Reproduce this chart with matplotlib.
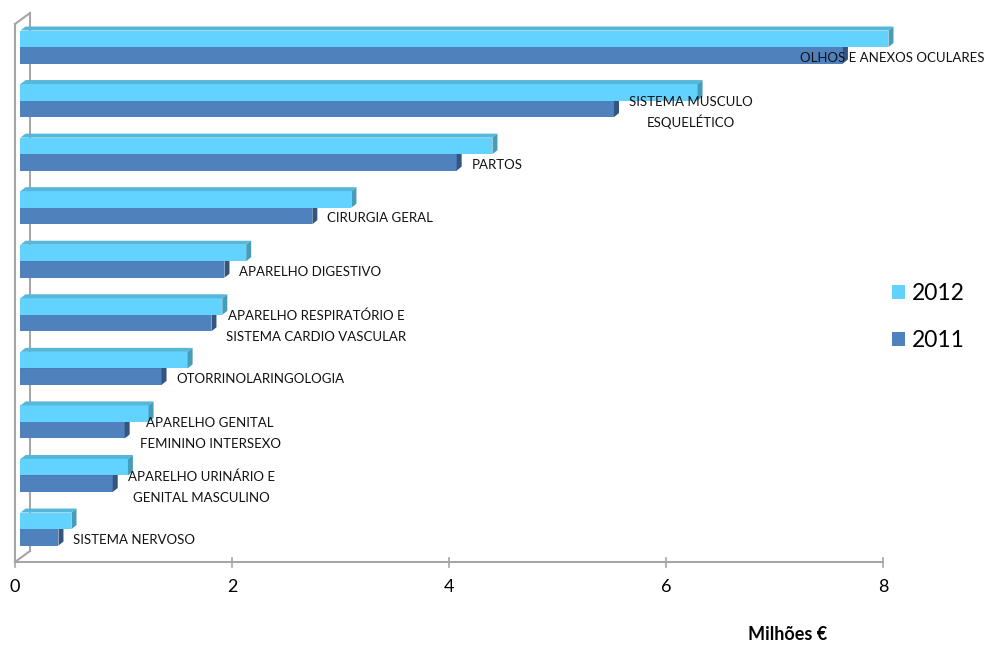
import matplotlib
matplotlib.use("Agg")
import matplotlib.pyplot as plt
from matplotlib.patches import Polygon

plt.rcParams['font.family'] = ['Lato', 'DejaVu Sans']

# Custos por especialidade (milhões de euros), de cima para baixo
categories = [
    'OLHOS E ANEXOS OCULARES',
    'SISTEMA MUSCULO\nESQUELÉTICO',
    'PARTOS',
    'CIRURGIA GERAL',
    'APARELHO DIGESTIVO',
    'APARELHO RESPIRATÓRIO E\nSISTEMA CARDIO VASCULAR',
    'OTORRINOLARINGOLOGIA',
    'APARELHO GENITAL\nFEMININO INTERSEXO',
    'APARELHO URINÁRIO E\nGENITAL MASCULINO',
    'SISTEMA NERVOSO',
]
v2012 = [8.00, 6.24, 4.35, 3.05, 2.08, 1.86, 1.54, 1.18, 0.99, 0.47]
v2011 = [7.58, 5.47, 4.02, 2.69, 1.88, 1.76, 1.30, 0.96, 0.85, 0.35]
series_names = ['2012', '2011']
xticks = [0, 2, 4, 6, 8]

# face colours: front, top, side
c2012 = ('#62D3FF', '#55B7DA', '#479CBA')
c2011 = ('#4F81BD', '#4672A8', '#34557F')
grid_col = '#A6A6A6'

W, H = 987, 645
fig = plt.figure(figsize=(W / 100, H / 100), dpi=100)
ax = fig.add_axes([0, 0, 1, 1])

# pixel scale of the plot: one unit in x, one category step in y
sx, x0 = 108.5, 20.5
sy, y0 = 53.56, 47.0
ax.set_xlim(-x0 / sx, (W - x0) / sx)
ax.set_ylim((H - y0) / sy, -y0 / sy)
ax.axis('off')


def px(xp):
    return (xp - x0) / sx


def py(yp):
    return (yp - y0) / sy


h = 16.5 / sy          # bar thickness
dx, dy = 5 / sx, -4 / sy  # bar depth

# back wall, floor and value axis
lw = 1.5
ax.plot([px(15), px(15)], [py(24), py(562)], color=grid_col, lw=lw, zorder=1)
ax.plot([px(30), px(30)], [py(13), py(551)], color=grid_col, lw=lw, zorder=1)
ax.plot([px(15), px(30)], [py(24), py(13)], color=grid_col, lw=lw, zorder=1)
ax.plot([px(15), px(30)], [py(562), py(551)], color=grid_col, lw=lw, zorder=1)
shift = px(15)
ax.plot([xticks[0] + shift, xticks[-1] + shift], [py(562), py(562)],
        color=grid_col, lw=lw, zorder=1)
for t in xticks:
    ax.plot([t + shift, t + shift], [py(558), py(567)], color=grid_col, lw=1.2, zorder=1)
    ax.text(t + shift, py(587), str(t), ha='center', va='center', fontsize=13, color='black')


def bar3d(y, w, cols, label=None):
    front, top, side = cols
    b = ax.barh(y, w, height=h, left=0, align='edge', color=front, linewidth=0,
                zorder=3, label=label)
    ax.add_patch(Polygon([(0, y), (w, y), (w + dx, y + dy), (dx, y + dy)],
                         closed=True, facecolor=top, edgecolor='none', zorder=3))
    ax.add_patch(Polygon([(w, y), (w, y + h), (w + dx, y + h + dy), (w + dx, y + dy)],
                         closed=True, facecolor=side, edgecolor='none', zorder=3))
    return b


handles = {}
for i, (a, b) in enumerate(zip(v2012, v2011)):
    handles['2011'] = bar3d(i, b, c2011, '2011')
    handles['2012'] = bar3d(i - h, a, c2012, '2012')

# category labels to the right of the 2011 bars, one text per line so
# the line pitch stays even
renderer = fig.canvas.get_renderer()
pt = 0.72          # points per pixel
pitch = 21         # px between baselines
gap = 10           # px between bar side and text
for i, (lab, b) in enumerate(zip(categories, v2011)):
    lines = lab.split('\n')
    n = len(lines)
    anchor = (b + dx, i + h / 2)
    texts = []
    for k, line in enumerate(lines):
        base = 6.5 - (n - 1) * pitch / 2 + k * pitch + (1 if n > 1 else 0)
        texts.append(ax.annotate(line, anchor, xytext=(0, -base * pt),
                                 textcoords='offset points', ha='center',
                                 va='baseline', fontsize=9.5,
                                 color='#111111', zorder=5))
    widths = [t.get_window_extent(renderer).width for t in texts]
    wmax = max(widths)
    xa = ax.transData.transform(anchor)[0]
    cx = gap + wmax / 2
    if xa + gap + wmax > W - 2:
        cx -= xa + gap + wmax - (W - 2)
    for t in texts:
        ox, oy = t.xyann
        t.xyann = (cx * pt, oy)

ax.legend([handles[n] for n in series_names], series_names,
          loc='center left', bbox_to_anchor=(892 / W, 1 - 317 / H),
          bbox_transform=fig.transFigure, frameon=False, fontsize=16.5,
          handlelength=0.55, handleheight=0.55, handletextpad=0.3,
          labelspacing=1.15, borderpad=0, borderaxespad=0)

fig.text(788 / W, 1 - 634 / H, 'Milhões €', ha='center', va='center',
         fontsize=13, fontweight='bold')

fig.savefig('out.png', dpi=100)
